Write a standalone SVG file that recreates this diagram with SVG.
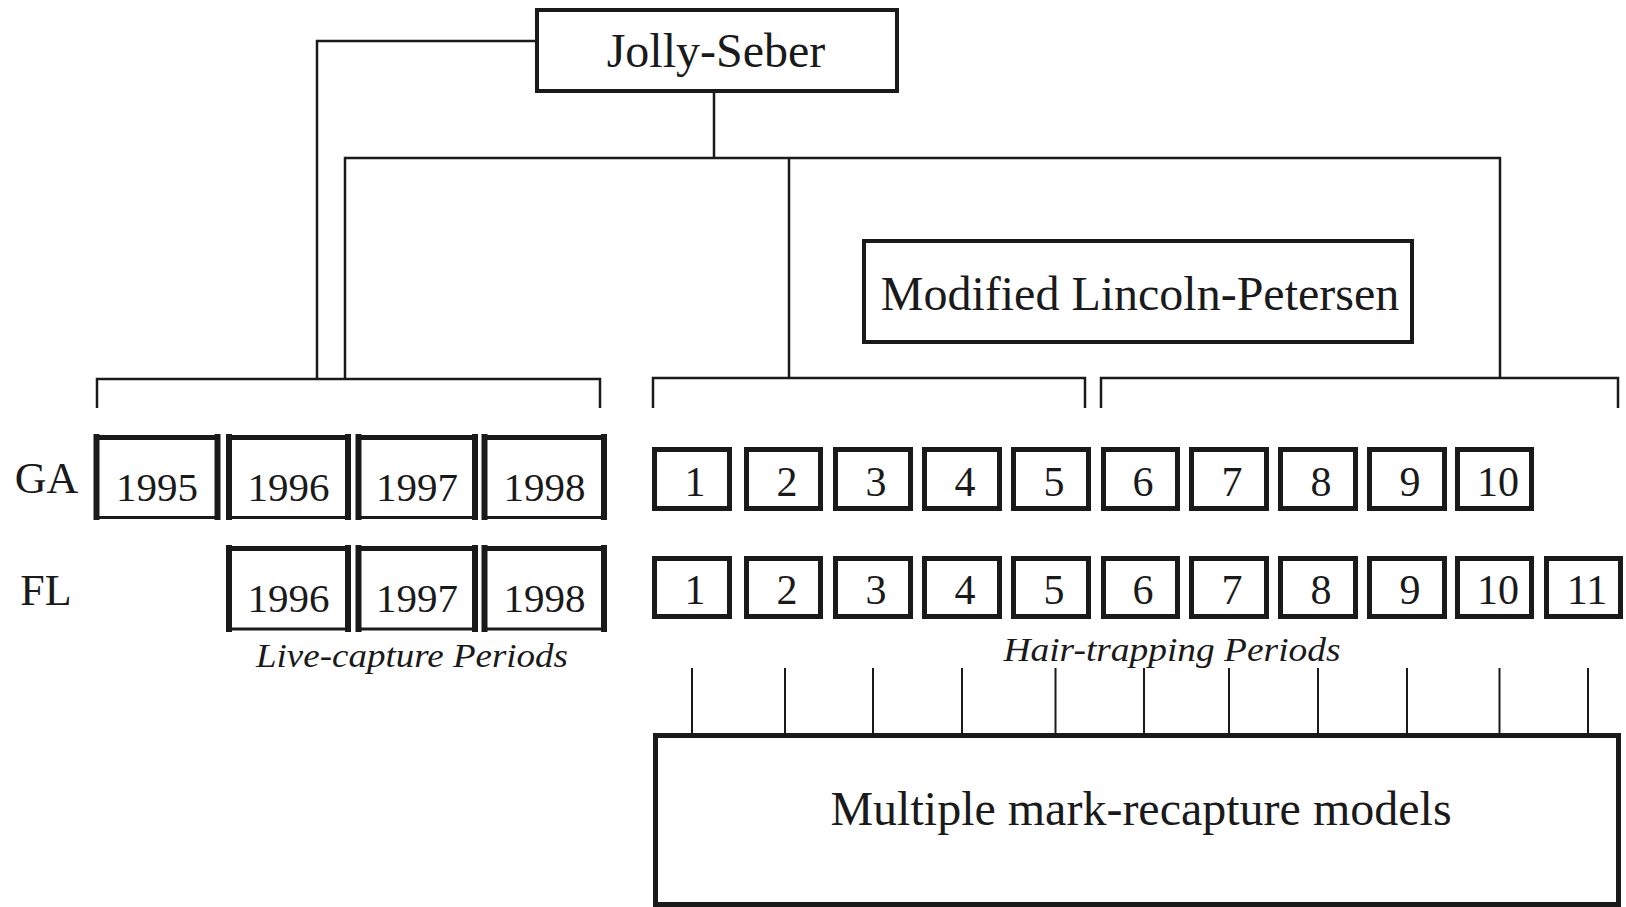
<svg xmlns="http://www.w3.org/2000/svg" width="1626" height="907" viewBox="0 0 1626 907">
<style>
.bg{fill:#fff}
.line{stroke:#1a1a1a;stroke-width:2.5;fill:none}
.tick{stroke:#1a1a1a;stroke-width:2;fill:none}
.big{fill:#fff;stroke:#1a1a1a;stroke-width:4}
.hb{fill:#fff;stroke:#1a1a1a;stroke-width:5}
.yv{stroke:#1a1a1a;stroke-width:6;fill:none}
.yt{stroke:#1a1a1a;stroke-width:5;fill:none}
.yb{stroke:#1a1a1a;stroke-width:3;fill:none}
.t{font-family:"Liberation Serif","Times New Roman",serif;fill:#1a1a1a;text-anchor:middle}
.t48{font-size:48px}
.yr{font-size:41px}
.num{font-size:42px}
.lab{font-size:44px}
.it{font-size:34px;font-style:italic}
</style>
<rect class="bg" x="0" y="0" width="1626" height="907"/>
<g id="connectors">
  <path class="line" d="M535 41 H317 V379"/>
  <path class="line" d="M714 93 V158"/>
  <path class="line" d="M345 379 V158 H1500 V378"/>
  <path class="line" d="M789 158 V378"/>
  <path class="line" d="M97 408 V379 H600 V408"/>
  <path class="line" d="M653 408 V378 H1085 V408"/>
  <path class="line" d="M1101 408 V378 H1618 V408"/>
  <path class="tick" d="M692 668 V733 M785 668 V733 M873 668 V733 M962 668 V733 M1055.5 668 V733 M1144 668 V733 M1229 668 V733 M1318 668 V733 M1407 668 V733 M1499.5 668 V733 M1588 668 V733"/>
</g>
<g id="jolly-seber">
  <rect class="big" x="537" y="10" width="360" height="81"/>
  <text class="t t48" x="716" y="67">Jolly-Seber</text>
</g>
<g id="modified-lincoln-petersen">
  <rect class="big" x="864" y="241" width="548" height="101"/>
  <text class="t t48" x="1140" y="310">Modified Lincoln-Petersen</text>
</g>
<g id="multiple-models">
  <rect class="hb" x="655.5" y="735.5" width="963" height="169"/>
  <text class="t t48" x="1141" y="825">Multiple mark-recapture models</text>
</g>
<g id="label-ga"><text class="t lab" x="46.5" y="493">GA</text></g>
<g id="label-fl"><text class="t lab" x="46" y="605">FL</text></g>
<g id="ga-1995">
  <path class="yt" d="M96.5 437.5 H217.5"/><path class="yb" d="M96.5 517.5 H217.5"/>
  <path class="yv" d="M96.5 434 V520 M217.5 434 V520"/>
  <text class="t yr" x="157" y="501">1995</text>
</g>
<g id="ga-1996">
  <path class="yt" d="M229 437.5 H348"/><path class="yb" d="M229 517.5 H348"/>
  <path class="yv" d="M229 434 V520 M348 434 V520"/>
  <text class="t yr" x="288.5" y="501">1996</text>
</g>
<g id="ga-1997">
  <path class="yt" d="M358.5 437.5 H475"/><path class="yb" d="M358.5 517.5 H475"/>
  <path class="yv" d="M358.5 434 V520 M475 434 V520"/>
  <text class="t yr" x="417" y="501">1997</text>
</g>
<g id="ga-1998">
  <path class="yt" d="M484.5 437.5 H604"/><path class="yb" d="M484.5 517.5 H604"/>
  <path class="yv" d="M484.5 434 V520 M604 434 V520"/>
  <text class="t yr" x="544.5" y="501">1998</text>
</g>
<g id="fl-1996">
  <path class="yt" d="M229 548.5 H348"/><path class="yb" d="M229 629 H348"/>
  <path class="yv" d="M229 545 V632 M348 545 V632"/>
  <text class="t yr" x="288.5" y="612">1996</text>
</g>
<g id="fl-1997">
  <path class="yt" d="M358.5 548.5 H475"/><path class="yb" d="M358.5 629 H475"/>
  <path class="yv" d="M358.5 545 V632 M475 545 V632"/>
  <text class="t yr" x="417" y="612">1997</text>
</g>
<g id="fl-1998">
  <path class="yt" d="M484.5 548.5 H604"/><path class="yb" d="M484.5 629 H604"/>
  <path class="yv" d="M484.5 545 V632 M604 545 V632"/>
  <text class="t yr" x="544.5" y="612">1998</text>
</g>
<text class="t it" x="412" y="667" textLength="312" lengthAdjust="spacingAndGlyphs">Live-capture Periods</text>
<g id="ga-hair">
  <g id="ga-h1"><rect class="hb" x="654.5" y="449.5" width="75" height="59"/><text class="t num" x="695" y="496">1</text></g>
  <g id="ga-h2"><rect class="hb" x="746.5" y="449.5" width="74" height="59"/><text class="t num" x="787" y="496">2</text></g>
  <g id="ga-h3"><rect class="hb" x="835.5" y="449.5" width="75" height="59"/><text class="t num" x="876" y="496">3</text></g>
  <g id="ga-h4"><rect class="hb" x="924.5" y="449.5" width="75" height="59"/><text class="t num" x="965" y="496">4</text></g>
  <g id="ga-h5"><rect class="hb" x="1013.5" y="449.5" width="75" height="59"/><text class="t num" x="1054" y="496">5</text></g>
  <g id="ga-h6"><rect class="hb" x="1103.5" y="449.5" width="74" height="59"/><text class="t num" x="1143" y="496">6</text></g>
  <g id="ga-h7"><rect class="hb" x="1191.5" y="449.5" width="75" height="59"/><text class="t num" x="1232" y="496">7</text></g>
  <g id="ga-h8"><rect class="hb" x="1280.5" y="449.5" width="75" height="59"/><text class="t num" x="1321" y="496">8</text></g>
  <g id="ga-h9"><rect class="hb" x="1369.5" y="449.5" width="75" height="59"/><text class="t num" x="1410" y="496">9</text></g>
  <g id="ga-h10"><rect class="hb" x="1457.5" y="449.5" width="74" height="59"/><text class="t num" x="1498" y="496">10</text></g>
</g>
<g id="fl-hair">
  <g id="fl-h1"><rect class="hb" x="654.5" y="558.5" width="75" height="58"/><text class="t num" x="695" y="604">1</text></g>
  <g id="fl-h2"><rect class="hb" x="746.5" y="558.5" width="74" height="58"/><text class="t num" x="787" y="604">2</text></g>
  <g id="fl-h3"><rect class="hb" x="835.5" y="558.5" width="75" height="58"/><text class="t num" x="876" y="604">3</text></g>
  <g id="fl-h4"><rect class="hb" x="924.5" y="558.5" width="75" height="58"/><text class="t num" x="965" y="604">4</text></g>
  <g id="fl-h5"><rect class="hb" x="1013.5" y="558.5" width="75" height="58"/><text class="t num" x="1054" y="604">5</text></g>
  <g id="fl-h6"><rect class="hb" x="1103.5" y="558.5" width="74" height="58"/><text class="t num" x="1143" y="604">6</text></g>
  <g id="fl-h7"><rect class="hb" x="1191.5" y="558.5" width="75" height="58"/><text class="t num" x="1232" y="604">7</text></g>
  <g id="fl-h8"><rect class="hb" x="1280.5" y="558.5" width="75" height="58"/><text class="t num" x="1321" y="604">8</text></g>
  <g id="fl-h9"><rect class="hb" x="1369.5" y="558.5" width="75" height="58"/><text class="t num" x="1410" y="604">9</text></g>
  <g id="fl-h10"><rect class="hb" x="1457.5" y="558.5" width="74" height="58"/><text class="t num" x="1498" y="604">10</text></g>
  <g id="fl-h11"><rect class="hb" x="1546.5" y="558.5" width="74" height="58"/><text class="t num" x="1587" y="604">11</text></g>
</g>
<text class="t it" x="1172" y="661" textLength="337" lengthAdjust="spacingAndGlyphs">Hair-trapping Periods</text>
</svg>
